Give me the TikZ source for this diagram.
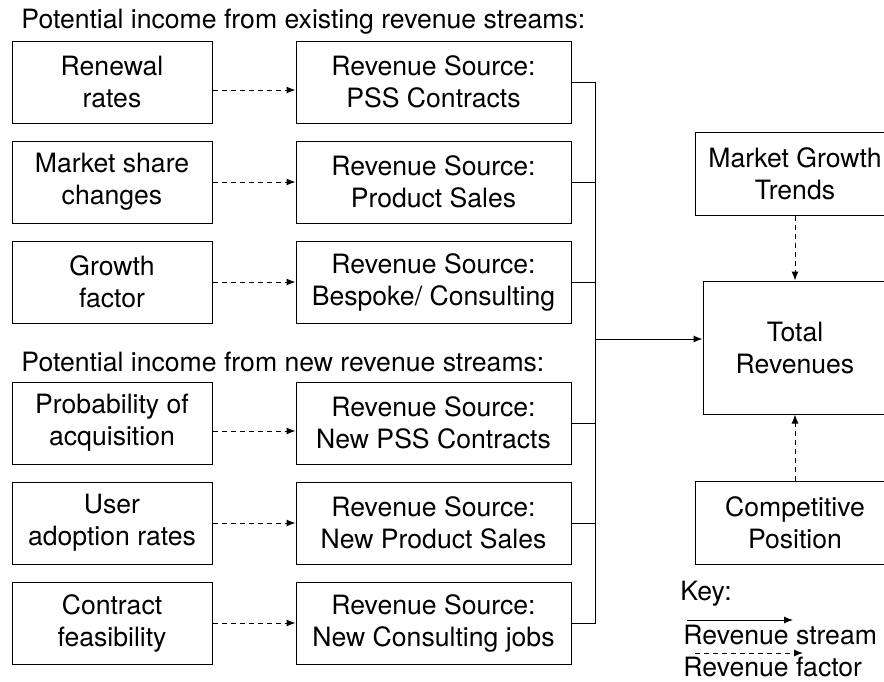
\documentclass[tikz,border=0pt]{standalone}
\usepackage{fontspec}
\setmainfont{TeX Gyre Heros}
\usetikzlibrary{positioning,arrows.meta}

\begin{document}
\begin{tikzpicture}[x=0.5pt,y=-0.5pt,node distance=8.5pt and 41.5pt,font=\fontsize{13.3}{16}\selectfont]
    % Define styles
    \tikzstyle{factor} = [rectangle, draw, align=center, minimum width=100pt, minimum height=41pt, line width=0.5pt]
    \tikzstyle{source} = [rectangle, draw, align=center, minimum width=137.5pt, minimum height=41pt, line width=0.5pt]
    \tikzstyle{outer} = [rectangle, draw, align=center, minimum width=100pt, minimum height=41.5pt, line width=0.5pt]
    \tikzstyle{heading} = [inner sep=0pt, anchor=west]
    \tikzstyle{link} = [line width=0.5pt]
    \tikzstyle{stream} = [line width=0.5pt,-{Latex[length=4.5pt,width=3.5pt]}]
    \tikzstyle{factorarrow} = [line width=0.5pt,-{Latex[length=4.5pt,width=3.5pt]},dash pattern=on 2.5pt off 2pt]

    \clip (0,0) rectangle (884,681);

    % Existing revenue streams
    \node[heading] (existing) at (21,22) {Potential income from existing revenue streams:};
    \node[factor] (renewal) at (112,82) {Renewal\\rates};
    \node[factor, below=of renewal] (share) {Market share\\changes};
    \node[factor, below=of share] (growth) {Growth\\factor};
    \node[source, right=of renewal] (pss) {Revenue Source:\\PSS Contracts};
    \node[source, right=of share] (sales) {Revenue Source:\\Product Sales};
    \node[source, right=of growth] (bespoke) {Revenue Source:\\Bespoke/ Consulting};

    % New revenue streams
    \node[heading] (new) at (21,362) {Potential income from new revenue streams:};
    \node[factor] (acquire) at (112,423) {Probability of\\acquisition};
    \node[factor, below=of acquire] (adoption) {User\\adoption rates};
    \node[factor, below=of adoption] (feasible) {Contract\\feasibility};
    \node[source, right=of acquire] (newpss) {Revenue Source:\\New PSS Contracts};
    \node[source, right=of adoption] (newsales) {Revenue Source:\\New Product Sales};
    \node[source, right=of feasible] (newjobs) {Revenue Source:\\New Consulting jobs};

    % Totals
    \node[outer] (trends) at (795,173.5) {Market Growth\\Trends};
    \node[outer, minimum width=92pt, minimum height=66.5pt] (total) at (795,347.5) {Total\\Revenues};
    \node[outer] (position) at (795,522.5) {Competitive\\Position};
    \coordinate (join) at (595,339);

    % Arrows
    \draw[factorarrow] ([yshift=-4pt]renewal.east) -- ([yshift=-4pt]pss.west);
    \draw[factorarrow] ([yshift=-4pt]acquire.east) -- ([yshift=-4pt]newpss.west);
    \foreach \a/\b in {share/sales, growth/bespoke, adoption/newsales, feasible/newjobs}
        \draw[factorarrow] (\a) -- (\b);
    \draw[link] (pss.east) -- (pss.east -| join) -- (newjobs.east -| join) -- (newjobs.east);
    \foreach \s in {sales, bespoke, newpss, newsales}
        \draw[link] (\s.east) -- (\s.east -| join);
    \draw[stream] (join) -- (join -| total.west);
    \draw[factorarrow] (trends) -- (total);
    \draw[factorarrow] (position) -- (total);

    % Key
    \node[heading] (key) at (680,594) {Key:};
    \coordinate (streamstart) at (687,620);
    \coordinate (streamend) at (793,620);
    \draw[stream] (streamstart) -- (streamend);
    \node[heading] (streamkey) at (683,635) {Revenue stream};
    \coordinate (factorstart) at (695,653);
    \coordinate (factorend) at (803,653);
    \draw[factorarrow] (factorstart) -- (factorend);
    \node[heading] (factorkey) at (683,667) {Revenue factor};
\end{tikzpicture}
\end{document}
